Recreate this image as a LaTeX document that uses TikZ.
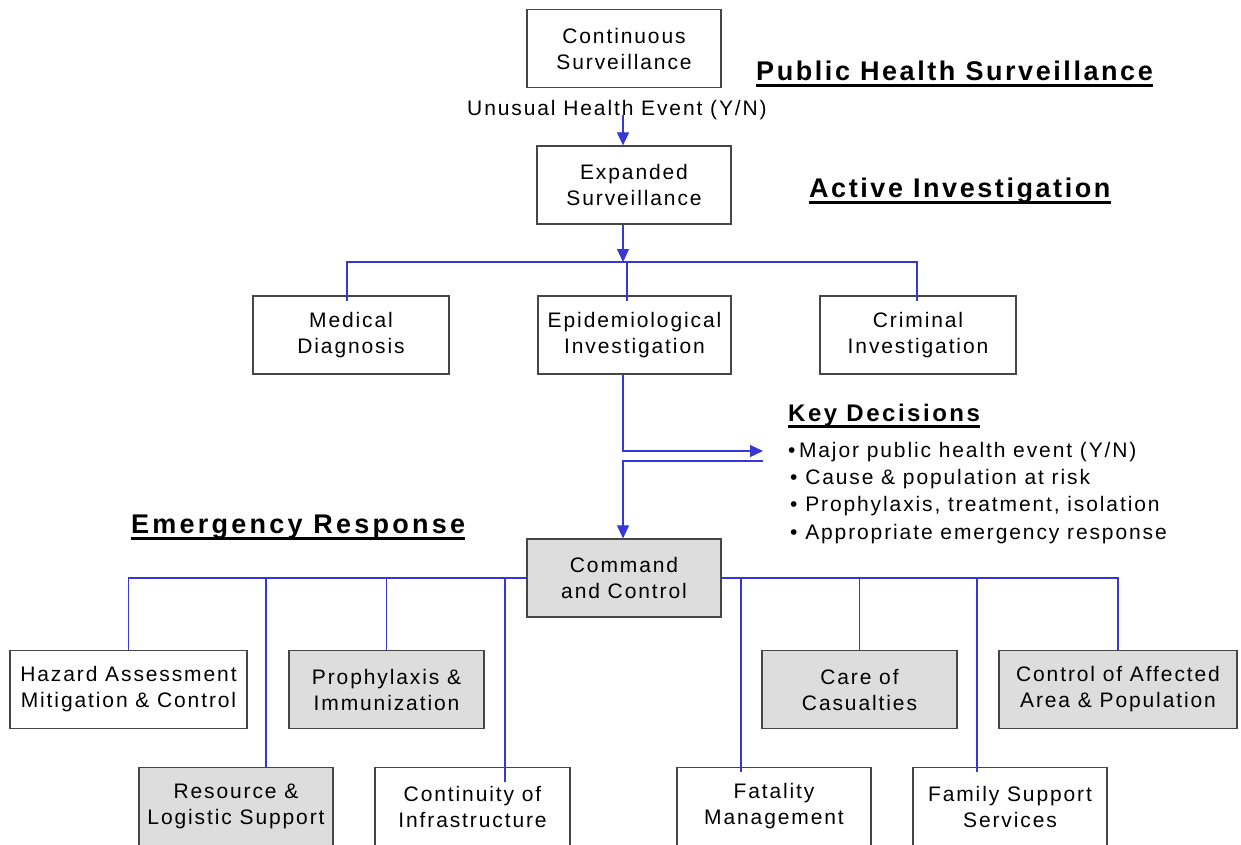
\documentclass[tikz,border=0pt]{standalone}
\usepackage{fontspec}
\setmainfont{Liberation Sans}[LetterSpace=9]
\usetikzlibrary{arrows.meta,calc}

\definecolor{linkblue}{RGB}{55,55,215}
\definecolor{boxgrey}{RGB}{221,221,221}
\definecolor{edgegrey}{RGB}{70,70,70}

\newcommand\bodyfont{\fontsize{21pt}{26pt}\selectfont}
\newcommand\headfont{\fontsize{27pt}{30pt}\selectfont\bfseries\addfontfeature{LetterSpace=9.5}}
\newcommand\emfont{\fontsize{27pt}{30pt}\selectfont\bfseries\addfontfeature{LetterSpace=12}}
\newcommand\keyfont{\fontsize{24pt}{28pt}\selectfont\bfseries\addfontfeature{LetterSpace=10.5}}

\tikzset{
  box/.style={draw=edgegrey, line width=1.3pt, fill=white, minimum width=#1,
    minimum height=78pt, inner sep=0pt, align=center, font=\bodyfont},
  box/.default=194pt,
  shaded/.style={fill=boxgrey},
  link/.style={draw=linkblue, line width=1.2pt},
  arr/.style={link, -{Triangle[length=13pt,width=12pt]}},
  heading/.style={anchor=base west, inner sep=0pt, font=\headfont},
  uline/.style={line width=3pt},
  item/.style={anchor=base west, inner sep=0pt, font=\bodyfont},
}

\begin{document}
\begin{tikzpicture}[x=1pt, y=-1pt]
\useasboundingbox (0,0) rectangle (1241,844);
\clip (0,0) rectangle (1241,844);
\fill[white] (0,0) rectangle (1241,844);

% surveillance and investigation chain
\node[box] (cont) at (624,48.5) {Continuous\\Surveillance};
\node[anchor=base, inner sep=0pt, font=\bodyfont] (ue) at (617,115) {Unusual Health Event (Y/N)};
\node[box] (exp) at (634,185) {Expanded\\Surveillance};
\node[box=196pt] (med) at (351,335) {Medical\\Diagnosis};
\node[box=193pt] (epi) at (634.5,335) {Epidemiological\\Investigation};
\node[box=196pt] (crim) at (918,335) {Criminal\\Investigation};

% emergency response units
\node[box, shaded] (cc) at (624,578) {Command\\and Control};
\node[box=237pt] (haz) at (128.5,689.5) {Hazard Assessment\\Mitigation \& Control};
\node[box=195pt, shaded] (pro) at (386.5,689.5) {Prophylaxis \&\\Immunization};
\node[box=195pt, shaded] (care) at (859.5,689.5) {Care of\\Casualties};
\node[box=238pt, shaded] (ctrl) at (1118,689.5) {Control of Affected\\Area \& Population};
\node[box, shaded] (res) at (236,806.5) {Resource \&\\Logistic Support};
\node[box=195pt] (cnt) at (472.5,806.5) {Continuity of\\Infrastructure};
\node[box] (fat) at (774,806.5) {Fatality\\Management};
\node[box] (fam) at (1010,806.5) {Family Support\\Services};

% headings
\node[heading] (h1) at (756,80) {Public Health Surveillance};
\node[heading] (h2) at (809,197) {Active Investigation};
\node[heading, font=\keyfont] (h3) at (788,421) {Key Decisions};
\node[heading, font=\emfont] (h4) at (131,533) {Emergency Response};
\foreach \h in {h1,h2,h3,h4}
  \draw[uline] ([yshift=-5pt]\h.base west) -- ([yshift=-5pt]\h.base east);

% key decision list
\node[item] (k1) at (788,457) {\textbullet\,Major public health event (Y/N)};
\node[item] (k2) at (790,484) {\textbullet\ Cause \& population at risk};
\node[item] (k3) at (790,511) {\textbullet\ Prophylaxis, treatment, isolation};
\node[item] (k4) at (790,539) {\textbullet\ Appropriate emergency response};

% connectors
\coordinate (j1) at (623,262);
\coordinate (kd1) at (763,451);
\coordinate (kd2) at (763,461);
\draw[arr] (ue.base -| j1) -- (exp.north -| j1);
\draw[arr] (exp.south -| j1) -- (j1);
\draw[link] ([xshift=-4pt,yshift=-6pt]med.north) |- (j1)
  -| ([xshift=-1pt,yshift=-6pt]crim.north);
\draw[link] ([xshift=-7.5pt,yshift=-6pt]epi.north) -- ([xshift=-7.5pt]epi.north |- j1);
\draw[arr] (epi.south -| j1) |- (kd1);
\draw[arr] (kd2) -| (cc.north -| j1);

\draw[link] (cc.west) -| (haz.north);
\draw[link] (cc.east) -| (ctrl.north);
\draw[link] (pro.north) -- (pro.north |- cc.west);
\draw[link] ([xshift=30pt]res.north) -- ([xshift=30pt]res.north |- cc.west);
\draw[link] ([xshift=32.5pt,yshift=-15pt]cnt.north) -- ([xshift=32.5pt]cnt.north |- cc.west);
\draw[link] ([xshift=-33pt,yshift=-5pt]fat.north) -- ([xshift=-33pt]fat.north |- cc.east);
\draw[link] (care.north) -- (care.north |- cc.east);
\draw[link] ([xshift=-33pt,yshift=-5pt]fam.north) -- ([xshift=-33pt]fam.north |- cc.east);
\end{tikzpicture}
\end{document}
